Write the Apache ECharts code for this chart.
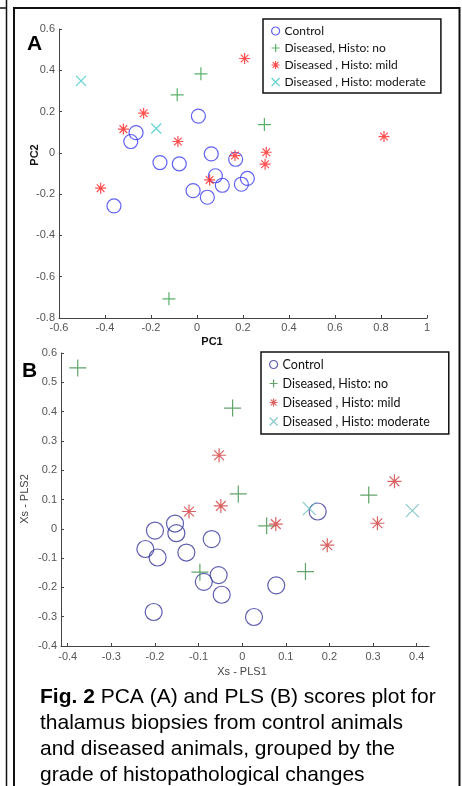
<!DOCTYPE html>
<html>
<head>
<meta charset="utf-8">
<script src="https://cdn.jsdelivr.net/npm/echarts@6/dist/echarts.min.js"></script>
<style>
  html, body { margin: 0; padding: 0; background: #fff; }
  #chart { width: 462px; height: 786px; }
</style>
</head>
<body>
<div id="chart"></div>
<script>
// ---- Data: panel A (PCA scores) ----
const pcaControl = [[0.006,0.178],[-0.265,0.098],[-0.288,0.055],[-0.161,-0.047],[-0.077,-0.053],[0.062,-0.005],[0.168,-0.031],[0.080,-0.111],[0.110,-0.157],[-0.017,-0.183],[0.045,-0.215],[0.193,-0.152],[0.219,-0.124],[-0.361,-0.257]];
const pcaHistoNo = [[0.017,0.383],[-0.086,0.281],[0.293,0.137],[-0.122,-0.707]];
const pcaHistoMild = [[0.207,0.457],[-0.232,0.192],[-0.320,0.115],[-0.083,0.055],[0.813,0.079],[0.165,-0.013],[0.301,0.003],[0.296,-0.055],[0.055,-0.131],[-0.419,-0.171]];
const pcaHistoModerate = [[-0.504,0.349],[-0.177,0.118]];

// ---- Data: panel B (PLS scores) ----
const plsControl = [[-0.200,-0.006],[-0.154,0.018],[-0.151,-0.015],[-0.070,-0.035],[-0.222,-0.069],[-0.194,-0.098],[-0.128,-0.081],[-0.054,-0.158],[-0.088,-0.181],[-0.047,-0.225],[-0.203,-0.284],[0.027,-0.301],[0.078,-0.193],[0.173,0.059]];
const plsHistoNo = [[-0.377,0.549],[-0.022,0.412],[-0.009,0.119],[0.056,0.010],[-0.097,-0.148],[0.145,-0.146],[0.290,0.115]];
const plsHistoMild = [[-0.053,0.251],[-0.049,0.078],[-0.122,0.059],[0.077,0.016],[0.195,-0.056],[0.310,0.019],[0.349,0.162]];
const plsHistoModerate = [[0.154,0.069],[0.390,0.062]];

// ---- Labels ----
const groupNames = ['Control', 'Diseased, Histo: no', 'Diseased , Histo: mild', 'Diseased , Histo: moderate'];
const plsXTicks = [-0.4, -0.3, -0.2, -0.1, 0, 0.1, 0.2, 0.3, 0.4];
const captionLines = ['{b|Fig. 2} PCA (A) and PLS (B) scores plot for', 'thalamus biopsies from control animals', 'and diseased animals, grouped by the', 'grade of histopathological changes'];

const SYM_PLUS = 'path://M0,5L10,5M5,0L5,10';
const SYM_STAR = 'path://M0,5L10,5M5,0L5,10M1.5,1.5L8.5,8.5M8.5,1.5L1.5,8.5M4.6,4.6L5.4,4.6L5.4,5.4L4.6,5.4Z';
const SYM_X = 'path://M0,0L10,10M10,0L0,10';

const colA = ['#3b3bf0', '#2f9f45', '#ff2424', '#3cc8c8'];
const colB = ['#34349c', '#3b8c45', '#d23c3c', '#6cbcbc'];
const symbols = ['circle', SYM_PLUS, SYM_STAR, SYM_X];

function mkSeries(name, data, idx, color, size, symbol) {
  return {
    type: 'scatter', name: name, data: data,
    xAxisIndex: idx, yAxisIndex: idx,
    symbol: symbol, symbolSize: size,
    itemStyle: { color: 'transparent', borderColor: color, borderWidth: 1.2 },
    emphasis: { disabled: true }, silent: true
  };
}

const axisLineStyle = { onZero: false, lineStyle: { color: '#444', width: 1 } };
const tickStyle = { inside: true, length: 3, lineStyle: { color: '#444' } };
const labelStyle = { color: '#555', fontSize: 11, fontFamily: 'Liberation Sans' };

function legendFor(colors, left, top, pad, gap, fs) {
  return {
    left: left, top: top, orient: 'vertical',
    backgroundColor: '#fff', borderColor: '#111', borderWidth: 1.5, borderRadius: 0,
    padding: pad, itemGap: gap, itemWidth: 8, itemHeight: 8,
    selectedMode: false,
    textStyle: { fontFamily: 'Lato', fontSize: fs, color: '#111' },
    data: groupNames.map((n, i) => ({
      name: n, icon: symbols[i],
      itemStyle: { color: 'transparent', borderColor: colors[i], borderWidth: 1.2 }
    }))
  };
}

const chart = echarts.init(document.getElementById('chart'), null, { renderer: 'canvas' });
chart.setOption({
  animation: false,
  backgroundColor: '#fff',
  grid: [
    { left: 59, top: 29, width: 368, height: 289 },
    { left: 61, top: 353, width: 368, height: 293 }
  ],
  xAxis: [
    { type: 'value', gridIndex: 0, min: -0.6, max: 1, interval: 0.2,
      axisLine: axisLineStyle, axisTick: tickStyle, axisLabel: Object.assign({ margin: 4 }, labelStyle),
      splitLine: { show: false } },
    { type: 'value', gridIndex: 1, min: -0.4154, max: 0.4282,
      axisLine: axisLineStyle,
      axisTick: Object.assign({ customValues: plsXTicks }, tickStyle),
      axisLabel: Object.assign({ margin: 5, customValues: plsXTicks, fontSize: 11.5 }, labelStyle),
      splitLine: { show: false } }
  ],
  yAxis: [
    { type: 'value', gridIndex: 0, min: -0.8, max: 0.6, interval: 0.2,
      axisLine: axisLineStyle, axisTick: tickStyle, axisLabel: Object.assign({ margin: 4 }, labelStyle),
      splitLine: { show: false } },
    { type: 'value', gridIndex: 1, min: -0.4, max: 0.6, interval: 0.1,
      axisLine: axisLineStyle, axisTick: tickStyle, axisLabel: Object.assign({ margin: 4, fontSize: 11.5 }, labelStyle),
      splitLine: { show: false } }
  ],
  legend: [
    legendFor(colA, 263, 19, [6, 15, 5, 8], 5, 12),
    legendFor(colB, 261, 352, [6, 19, 6, 8], 6, 12.5)
  ],
  series: [
    mkSeries(groupNames[0], pcaControl, 0, colA[0], 14, symbols[0]),
    mkSeries(groupNames[1], pcaHistoNo, 0, colA[1], 13, symbols[1]),
    mkSeries(groupNames[2], pcaHistoMild, 0, colA[2], 11, symbols[2]),
    mkSeries(groupNames[3], pcaHistoModerate, 0, colA[3], 10, symbols[3]),
    mkSeries(groupNames[0], plsControl, 1, colB[0], 17, symbols[0]),
    mkSeries(groupNames[1], plsHistoNo, 1, colB[1], 17, symbols[1]),
    mkSeries(groupNames[2], plsHistoMild, 1, colB[2], 14, symbols[2]),
    mkSeries(groupNames[3], plsHistoModerate, 1, colB[3], 13, symbols[3])
  ],
  graphic: [
    // frames
    { type: 'line', shape: { x1: 6.5, y1: 0, x2: 6.5, y2: 786 }, style: { stroke: '#111', lineWidth: 1.5 }, silent: true },
    { type: 'line', shape: { x1: 0, y1: 8, x2: 7, y2: 8 }, style: { stroke: '#111', lineWidth: 1.5 }, silent: true },
    { type: 'polyline', shape: { points: [[14, 786], [14, 8], [459.5, 8], [459.5, 786]] }, style: { stroke: '#111', lineWidth: 2, fill: null }, silent: true },
    // panel letters
    { type: 'text', left: 27, top: 34, style: { text: 'A', font: 'bold 21px "Liberation Sans"', fill: '#000' }, silent: true },
    { type: 'text', left: 22, top: 361, style: { text: 'B', font: 'bold 21px "Liberation Sans"', fill: '#000' }, silent: true },
    // axis names
    { type: 'text', x: 212, y: 342, style: { text: 'PC1', font: 'bold 11px "Liberation Sans"', fill: '#111', align: 'center', verticalAlign: 'middle' }, silent: true },
    { type: 'text', x: 35, y: 155, rotation: Math.PI / 2, style: { text: 'PC2', font: 'bold 11px "Liberation Sans"', fill: '#111', align: 'center', verticalAlign: 'middle' }, silent: true },
    { type: 'text', x: 242, y: 672, style: { text: 'Xs - PLS1', font: '11px "Liberation Sans"', fill: '#444', align: 'center', verticalAlign: 'middle' }, silent: true },
    { type: 'text', x: 25, y: 499, rotation: Math.PI / 2, style: { text: 'Xs - PLS2', font: '11px "Liberation Sans"', fill: '#444', align: 'center', verticalAlign: 'middle' }, silent: true },
    // caption
    { type: 'text', left: 40, top: 684, style: {
        text: captionLines.join('\n'),
        font: '21px "Liberation Sans"', fill: '#000', lineHeight: 26,
        rich: { b: { font: 'bold 21px "Liberation Sans"', fill: '#000', lineHeight: 26 } }
      }, silent: true }
  ]
});
</script>
</body>
</html>
